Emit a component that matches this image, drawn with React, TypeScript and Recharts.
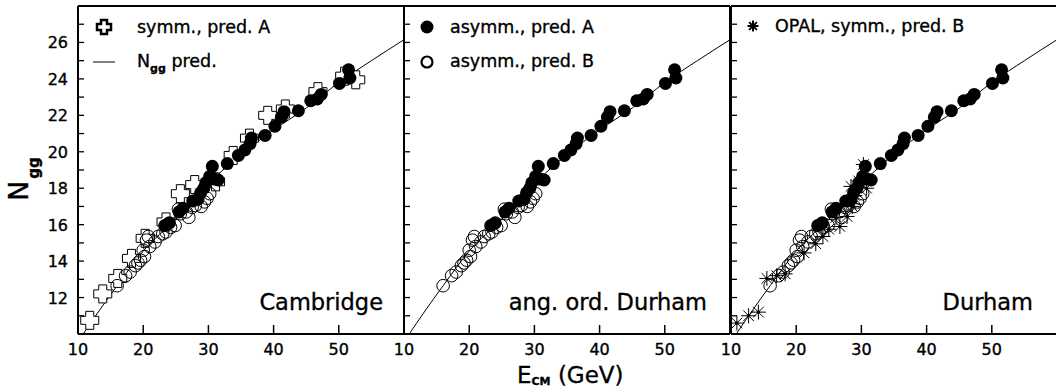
import React from "react";
import { ComposedChart, Scatter, Line, XAxis, YAxis, ReferenceLine } from "recharts";

// [E_cm (GeV), N_gg]
const symmPredA: [number, number][] = [
  [11.8, 10.75], [13.8, 12.2], [16.1, 13.05], [18.2, 14.15], [20.3, 15.25],
  [23.5, 16.15], [25.7, 17.7], [27.9, 18.2], [31.1, 18.35], [33.8, 19.8],
  [36.3, 20.75], [39.1, 22.0], [41.8, 22.35], [46.8, 23.3], [50.9, 24.15], [52.6, 23.95],
];

const asymmPredA: [number, number][] = [
  [23.3, 15.95], [24.0, 16.1], [25.5, 16.7], [26.1, 16.9], [27.6, 17.3], [28.4, 17.4],
  [28.8, 17.75], [29.3, 18.0], [29.6, 18.3], [30.2, 18.65], [30.6, 19.2], [30.9, 18.5],
  [31.5, 18.45], [32.9, 19.35], [34.6, 19.8], [35.6, 20.1], [36.4, 20.45], [36.6, 20.75],
  [38.7, 20.9], [40.2, 21.4], [41.2, 21.9], [41.6, 22.2], [43.8, 22.25], [45.7, 22.8],
  [46.7, 22.9], [47.3, 23.15], [50.1, 23.75], [51.5, 24.5], [51.7, 24.05],
];

const asymmPredB: [number, number][] = [
  [16.0, 12.65], [17.3, 13.2], [18.0, 13.4], [18.8, 13.75], [19.2, 13.9], [19.6, 14.05],
  [20.0, 14.6], [20.2, 14.25], [20.5, 15.15], [20.8, 15.35], [21.0, 14.8], [21.8, 15.05],
  [22.3, 15.35], [23.0, 15.5], [23.5, 15.6], [24.2, 15.85], [24.9, 15.95], [25.4, 16.85],
  [25.7, 16.6], [26.6, 16.7], [27.0, 16.4], [27.5, 16.95], [28.0, 17.05], [28.9, 17.0],
  [29.4, 17.25], [29.8, 17.45], [30.2, 17.7],
];

const opalSymmPredB: [number, number][] = [
  [10.9, 10.6], [12.7, 11.0], [14.2, 11.2], [15.5, 13.05], [17.0, 13.2], [18.3, 13.3],
  [21.2, 14.45], [23.0, 14.95], [24.1, 15.35], [25.0, 15.75], [26.1, 16.4], [26.7, 15.9],
  [27.8, 16.45], [28.4, 17.15], [28.6, 17.0], [29.0, 17.6], [28.4, 18.1], [29.6, 18.4],
  [30.3, 19.3], [30.8, 18.0],
];

const predE = [10.8, 13, 16, 20, 25, 30, 35, 40, 45, 50, 55, 60];
const predN = [10.0, 11.15, 12.65, 14.55, 16.3, 18.25, 19.85, 21.2, 22.4, 23.8, 25.0, 26.15];

const xTicks = [10, 20, 30, 40, 50];
const yTicks = [10, 11, 12, 13, 14, 15, 16, 17, 18, 19, 20, 21, 22, 23, 24, 25, 26, 27, 28];
const yLabels = [12, 14, 16, 18, 20, 22, 24, 26];
const panelNames = ["Cambridge", "ang. ord. Durham", "Durham"];

const FONT = "'DejaVu Sans', sans-serif";
const PLOT_W = 326;

const toPts = (arr: [number, number][]) => arr.map(([e, n]) => ({ e, n }));
const predLine = predE.map((e, i) => ({ e, n: predN[i] }));

const crossPath = (cx: number, cy: number, a: number, b: number) =>
  `M${cx - b},${cy - a}H${cx + b}V${cy - b}H${cx + a}V${cy + b}H${cx + b}V${cy + a}H${cx - b}V${cy + b}H${cx - a}V${cy - b}H${cx - b}Z`;

const CrossShape = (p: any) => (
  <path d={crossPath(p.cx, p.cy, 9, 4)} fill="#fff" stroke="#000" strokeWidth={1} />
);
const FilledDot = (p: any) => <circle cx={p.cx} cy={p.cy} r={6.5} fill="#000" />;
const OpenDot = (p: any) => (
  <circle cx={p.cx} cy={p.cy} r={6.3} fill="none" stroke="#000" strokeWidth={1} />
);
const Star = ({ cx, cy, r = 7.5, w = 1 }: any) => {
  const d = r * 0.707;
  return (
    <g stroke="#000" strokeWidth={w}>
      <line x1={cx - r} x2={cx + r} y1={cy} y2={cy} />
      <line x1={cx} x2={cx} y1={cy - r} y2={cy + r} />
      <line x1={cx - d} x2={cx + d} y1={cy - d} y2={cy + d} />
      <line x1={cx - d} x2={cx + d} y1={cy + d} y2={cy - d} />
      <circle cx={cx} cy={cy} r={1.3} fill="#000" />
    </g>
  );
};
const StarShape = (p: any) => <Star cx={p.cx} cy={p.cy} />;

// slightly heavier text, like the original print
const txt = { fontFamily: FONT, fill: "#000", stroke: "#000", strokeWidth: 0.35 };

const XTick = (p: any) => {
  const axisY = p.y - 4;
  return (
    <g>
      <line x1={p.x} x2={p.x} y1={axisY} y2={axisY - 9} stroke="#000" strokeWidth={1.5} />
      <text x={p.x} y={axisY + 21} textAnchor="middle" fontSize={16} {...txt}>
        {p.payload.value}
      </text>
    </g>
  );
};

const YTick = (p: any) => {
  const axisX = p.x + 10;
  const v = p.payload.value;
  return (
    <g>
      <line x1={axisX} x2={axisX + 6} y1={p.y} y2={p.y} stroke="#000" strokeWidth={1.3} />
      {p.showLabel && yLabels.includes(v) && (
        <text x={p.x} y={p.y + 6} textAnchor="end" fontSize={16} {...txt}>
          {v}
        </text>
      )}
    </g>
  );
};

interface PanelProps {
  left: number;
  axisW: number;
  showYLabels: boolean;
  withSymm?: boolean;
  withOpal?: boolean;
}

const Panel = ({ left, axisW, showYLabels, withSymm, withOpal }: PanelProps) => (
  <div style={{ position: "absolute", left, top: 0 }}>
    <ComposedChart width={axisW + PLOT_W} height={392} margin={{ top: 6, right: 0, bottom: 0, left: 0 }}>
      <XAxis
        type="number"
        dataKey="e"
        domain={[10, 60]}
        ticks={xTicks}
        interval={0}
        allowDataOverflow
        height={58}
        tickSize={0}
        tickMargin={4}
        tickLine={false}
        axisLine={{ stroke: "#000", strokeWidth: 2 }}
        tick={(p: any) => <XTick {...p} />}
      />
      <YAxis
        type="number"
        dataKey="n"
        domain={[10, 28]}
        ticks={yTicks}
        interval={0}
        allowDataOverflow
        width={axisW}
        tickSize={0}
        tickMargin={10}
        tickLine={false}
        axisLine={{ stroke: "#000", strokeWidth: 2 }}
        tick={(p: any) => <YTick {...p} showLabel={showYLabels} />}
      />
      <ReferenceLine y={28} stroke="#000" strokeWidth={2} />
      <ReferenceLine x={60} stroke="#000" strokeWidth={2} />
      <Line data={predLine} dataKey="n" type="monotone" stroke="#000" strokeWidth={1} dot={false} isAnimationActive={false} />
      {withSymm && <Scatter data={toPts(symmPredA)} dataKey="n" shape={CrossShape} isAnimationActive={false} />}
      <Scatter data={toPts(asymmPredA)} dataKey="n" shape={FilledDot} isAnimationActive={false} />
      <Scatter data={toPts(asymmPredB)} dataKey="n" shape={OpenDot} isAnimationActive={false} />
      {withOpal && <Scatter data={toPts(opalSymmPredB)} dataKey="n" shape={StarShape} isAnimationActive={false} />}
    </ComposedChart>
  </div>
);

export default function App() {
  return (
    <div style={{ position: "absolute", left: 0, top: 0, width: 1056, height: 392, overflow: "hidden", background: "#fff" }}>
      <Panel left={0} axisW={78} showYLabels withSymm />
      <Panel left={374} axisW={30} showYLabels={false} />
      <Panel left={701} axisW={30} showYLabels={false} withOpal />
      <svg width={1056} height={392} style={{ position: "absolute", left: 0, top: 0, pointerEvents: "none" }}>
        {/* legends */}
        <path d={crossPath(104, 27, 7, 3)} fill="#fff" stroke="#000" strokeWidth={2.5} />
        <text x={137} y={33} fontSize={17.5} {...txt}>symm., pred. A</text>
        <line x1={93} x2={115} y1={62} y2={62} stroke="#000" strokeWidth={1} />
        <text x={137} y={67} fontSize={17.5} {...txt}>
          N<tspan fontSize={11} fontWeight="bold" dy={5}>gg</tspan>
          <tspan dy={-5}> pred.</tspan>
        </text>
        <circle cx={427} cy={27} r={6.5} fill="#000" />
        <text x={450} y={33} fontSize={17.5} {...txt}>asymm., pred. A</text>
        <circle cx={427} cy={62} r={5.5} fill="none" stroke="#000" strokeWidth={2.2} />
        <text x={450} y={67} fontSize={17.5} {...txt}>asymm., pred. B</text>
        <Star cx={753} cy={26} r={5.5} w={2} />
        <text x={775} y={32} fontSize={17.5} {...txt}>OPAL, symm., pred. B</text>
        {/* panel names */}
        <text x={383} y={310} fontSize={22.5} textAnchor="end" {...txt}>{panelNames[0]}</text>
        <text x={707} y={310} fontSize={22.5} textAnchor="end" {...txt}>{panelNames[1]}</text>
        <text x={1033} y={310} fontSize={22.5} textAnchor="end" {...txt}>{panelNames[2]}</text>
        {/* axis titles */}
        <text x={517} y={383} fontSize={23} {...txt}>
          E<tspan fontSize={11} fontWeight="bold" dy={2}>CM</tspan>
          <tspan dy={-2}> (GeV)</tspan>
        </text>
        <text transform="translate(28,201) rotate(-90)" fontSize={27} {...txt}>
          N<tspan fontSize={15} fontWeight="bold" dy={11} dx={2}>gg</tspan>
        </text>
      </svg>
    </div>
  );
}
